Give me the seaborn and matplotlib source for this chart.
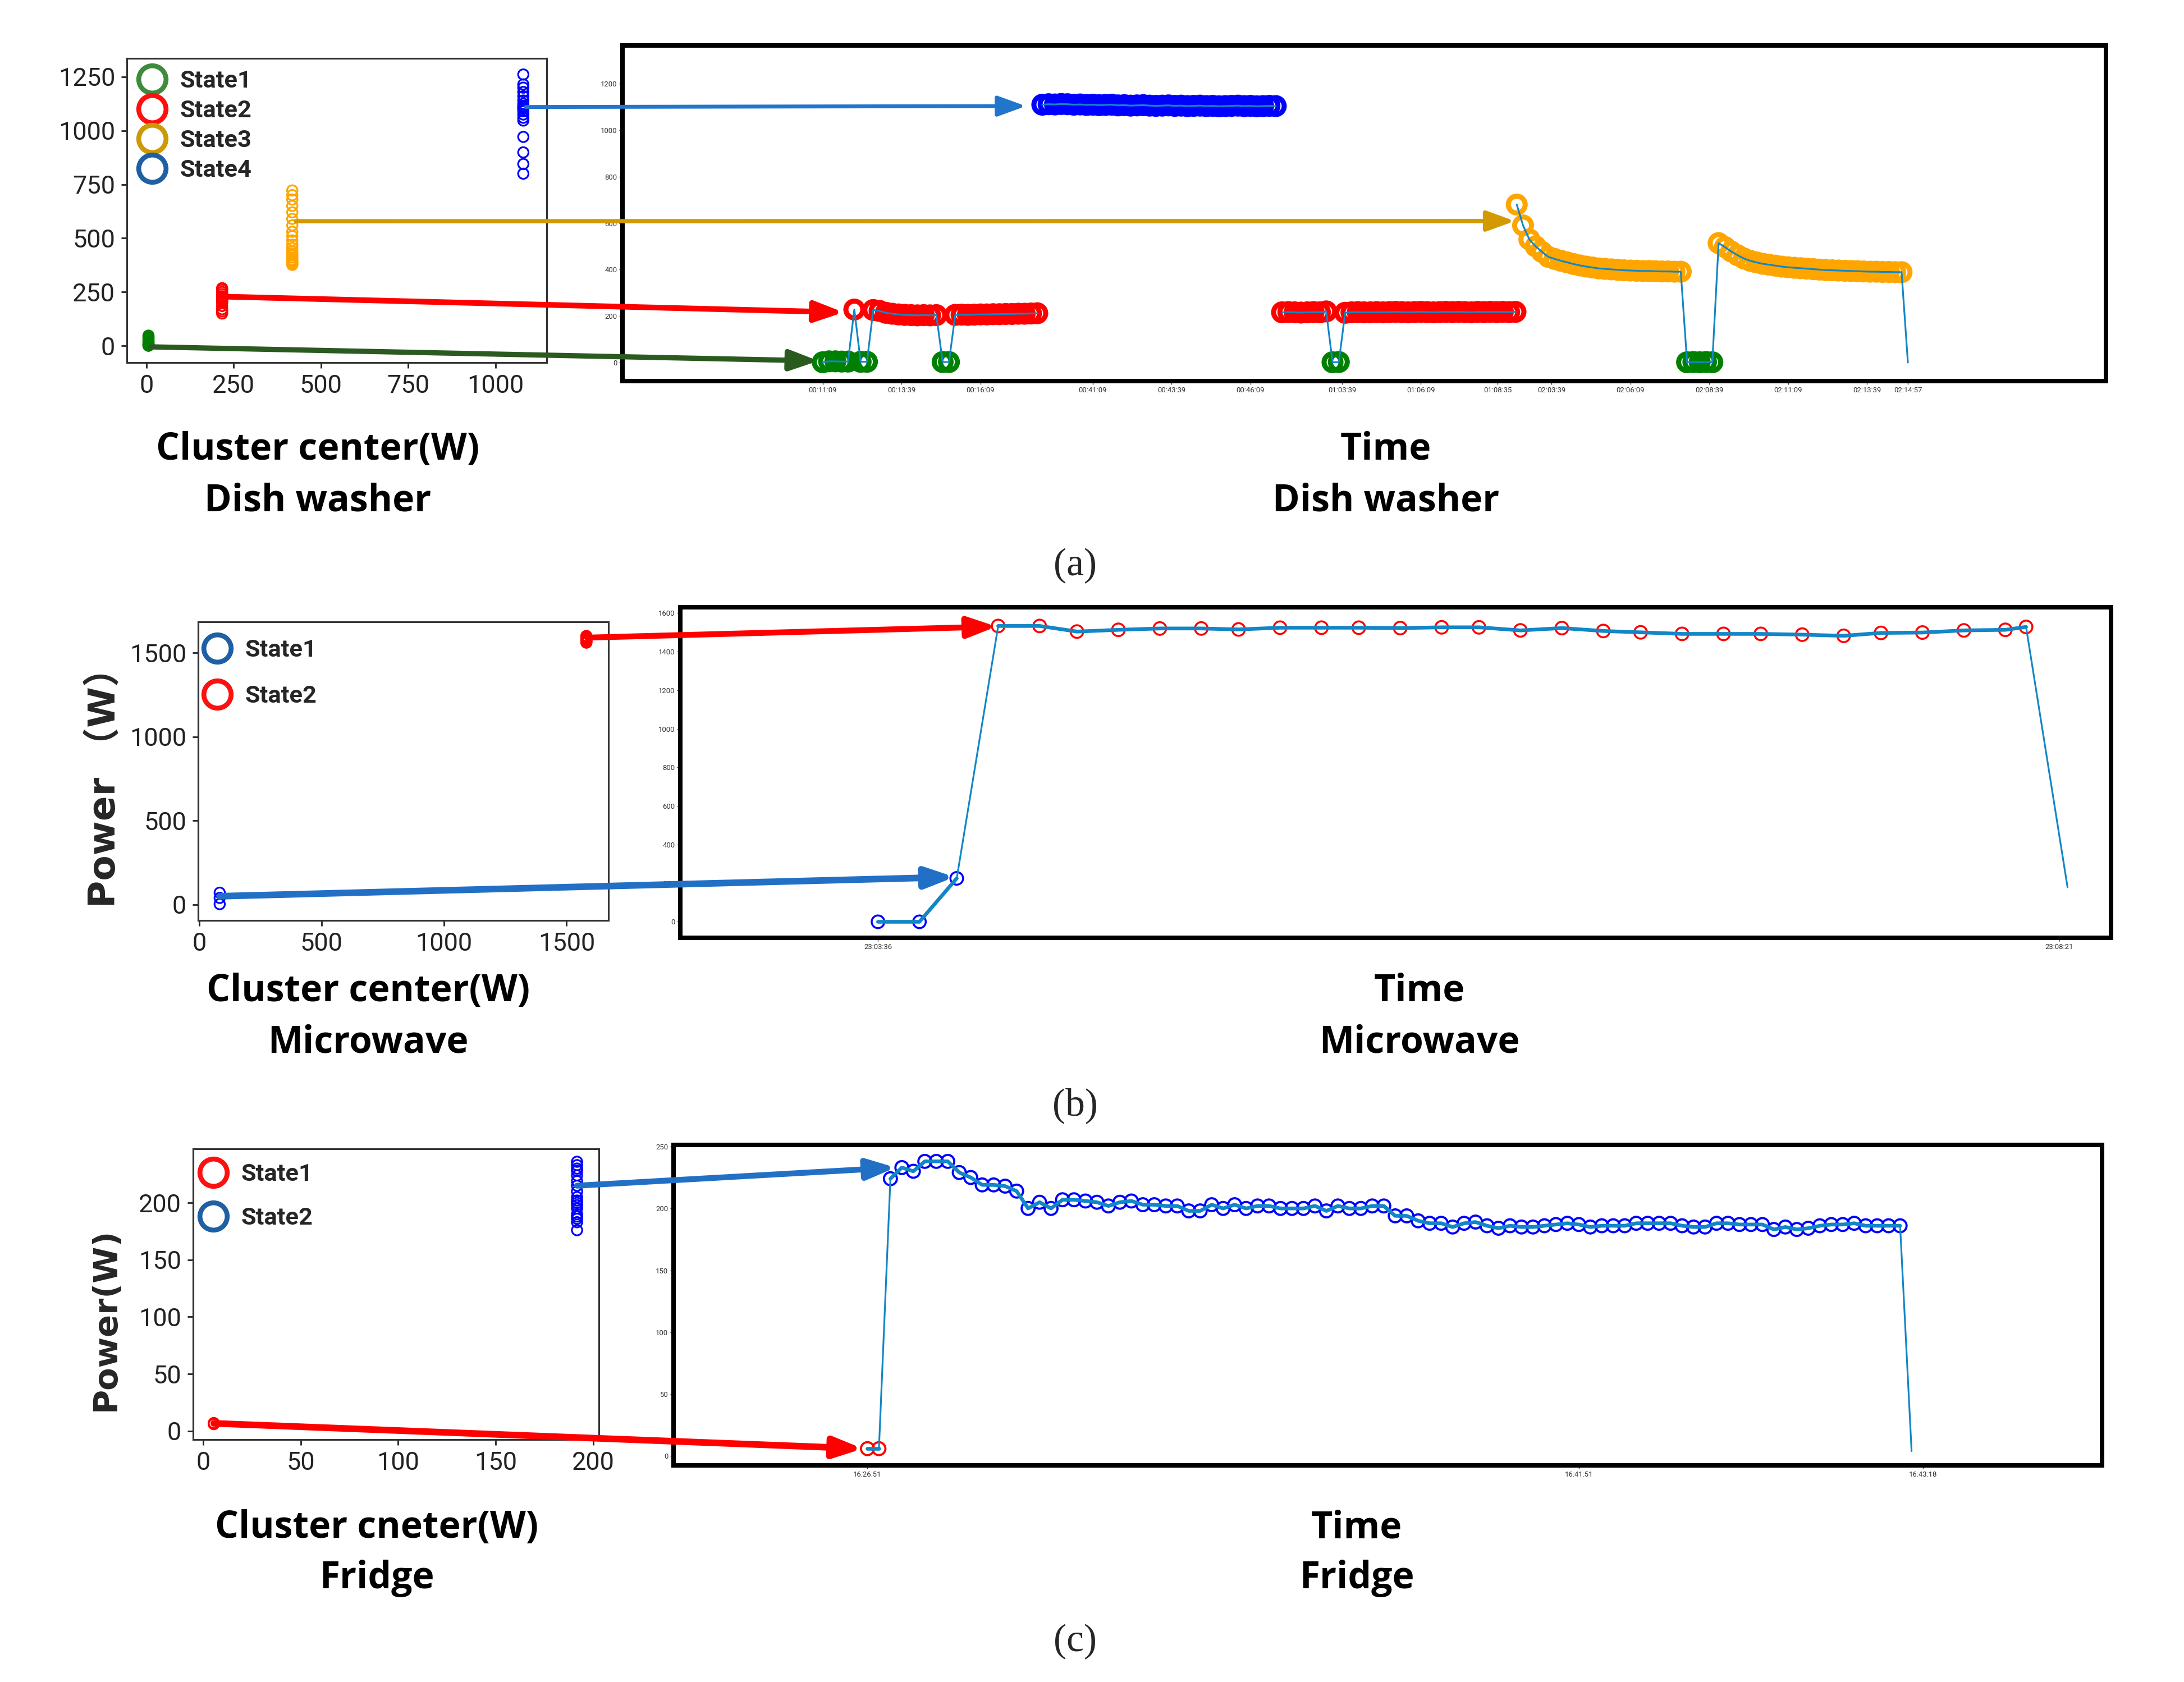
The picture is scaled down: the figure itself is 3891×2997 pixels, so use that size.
import numpy as np
import pandas as pd
import matplotlib.pyplot as plt
import seaborn as sns
from matplotlib.patches import ConnectionPatch
from matplotlib.lines import Line2D

W, H, DPI = 3891, 2997, 250

# ---------------- (a) dish washer ----------------
dw_labels = ["State1", "State2", "State3", "State4"]
dw_centers = [6, 217, 418, 1080]
dw_pts_s1 = [0, 2, 3, 5, 8, 12, 18, 25, 33, 40, 47]
dw_pts_s2 = [150, 160, 170, 185, 200, 205, 210, 215, 220, 225, 230, 240, 250, 260, 268]
dw_pts_s3 = [376, 380, 385, 390, 395, 400, 410, 420, 430, 440, 455, 470, 490, 510, 530,
             560, 590, 620, 650, 680, 700, 722]
dw_pts_s4 = [800, 845, 899, 971, 1047, 1060, 1075, 1090, 1100, 1105, 1110, 1115, 1125,
             1140, 1160, 1180, 1200, 1215, 1261]

dw_step = 0.2                                   # minutes between samples
dw_seg_start = [11.15, 39.55, 61.75, 122.55]    # minutes
dw_seg_shift = [0.0, 21.44, 36.04, 89.40]       # time cut out of the broken axis
dw_seg1_w = [1, 5, 5, 4, 4, 228, 3, 3, 226, 222, 214, 210, 207, 205, 204, 203, 204, 203, 204,
             2, 2, 205, 206, 205, 206, 207, 207, 208, 208, 209, 209, 210, 210, 211, 212]
dw_seg1_runs = [(1, 5), (2, 1), (1, 2), (2, 11), (1, 2), (2, 14)]
dw_seg2_w = [1110, 1112, 1111, 1113, 1112, 1110, 1111, 1109, 1110, 1108,
             1109, 1110, 1107, 1108, 1106, 1107, 1108, 1106, 1105, 1106,
             1107, 1105, 1106, 1104, 1105, 1106, 1104, 1105, 1103, 1104,
             1105, 1106, 1104, 1105, 1103, 1104, 1105, 1104]
dw_seg2_runs = [(4, 38)]
dw_seg3_w = [216, 217, 216, 215, 216, 217, 216, 220, 1, 2,
             214, 216, 217, 216, 216, 217, 216, 217, 218, 217,
             216, 217, 218, 217, 216, 217, 218, 217, 218, 217,
             216, 218, 217, 218, 217, 218, 217, 218]
dw_seg3_runs = [(2, 8), (1, 2), (2, 28)]
dw_seg4_w = [680, 590, 530, 500, 476, 455, 446, 438, 431, 424, 418, 413, 409, 405, 403,
             401, 399, 397, 396, 395, 394, 394, 393, 392, 392, 391, 391,
             1, 2, 1, 2, 1,
             514, 497, 478, 462, 448, 438, 431, 425, 421, 417, 413, 410, 408, 406, 404,
             402, 400, 398, 397, 396, 395, 394, 393, 392, 391, 391, 390, 390, 389, 389,
             0]
dw_seg4_runs = [(3, 27), (1, 5), (3, 30), (0, 1)]
dw_ticks = ["00:11:09", "00:13:39", "00:16:09", "00:41:09", "00:43:39", "00:46:09",
            "01:03:39", "01:06:09", "01:08:35", "02:03:39", "02:06:09", "02:08:39",
            "02:11:09", "02:13:39", "02:14:57"]

# ---------------- (b) microwave ----------------
mw_labels = ["State1", "State2"]
mw_centers = [84, 1581]
mw_pts_s1 = [3, 40, 71]
mw_pts_s2 = [1560, 1565, 1570, 1575, 1580, 1585, 1590, 1595, 1600]
mw_t = [0, 10, 19, 29, 39, 48, 58, 68, 78, 87, 97, 107, 116, 126, 136, 145, 155, 165,
        175, 184, 194, 204, 213, 223, 233, 242, 252, 262, 272, 277, 287]
mw_w = [0, 0, 225, 1533, 1533, 1504, 1513, 1520, 1520, 1515, 1524, 1524, 1524, 1522, 1526,
        1526, 1510, 1522, 1507, 1500, 1492, 1492, 1492, 1488, 1482, 1497, 1499, 1510, 1513,
        1528, 180]
mw_runs = [(1, 3), (2, 27), (0, 1)]
mw_ticks = ["23:03:36", "23:08:21"]

# ---------------- (c) fridge ----------------
fr_labels = ["State1", "State2"]
fr_centers = [5.5, 191.6]
fr_pts_s1 = [6, 7]
fr_pts_s2 = [176, 183, 186, 188, 190, 195, 198, 200, 202, 205, 210, 215, 219, 224, 228,
             230, 233, 236]
fr_w = [6, 6, 224, 233, 230, 238, 238, 238, 229, 225, 219, 219, 218, 214, 200, 205, 200,
        207, 207, 206, 205, 202, 205, 206, 203, 203, 202, 202, 198, 198, 203, 200, 203,
        200, 202, 202, 200, 200, 200, 202, 198, 202, 200, 200, 202, 202, 194, 194, 190,
        188, 188, 185, 188, 189, 186, 184, 186, 185, 185, 186, 187, 188, 187, 185, 186,
        186, 186, 188, 188, 188, 188, 186, 185, 185, 188, 188, 187, 187, 187, 183, 185,
        183, 184, 186, 187, 187, 188, 186, 186, 186, 186, 4]
fr_runs = [(1, 2), (2, 89), (0, 1)]
fr_tick_idx = [0, 62, 92]
fr_ticks = ["16:26:51", "16:41:51", "16:43:18"]

LINE = "#1286c6"
GREEN, RED, ORANGE, BLUE = "#008000", "#ff0000", "#ffa500", "#0000ff"


def expand_runs(runs):
    out = []
    for s, n in runs:
        out += [s] * n
    return out


def to_sec(s):
    h, m, x = map(int, s.split(":"))
    return h * 3600 + m * 60 + x


def cluster_frame(centers, groups):
    rows = []
    for k, (c, pts) in enumerate(zip(centers, groups), start=1):
        rows += [(c, p, "S%d" % k) for p in pts]
    return pd.DataFrame(rows, columns=["center", "power", "lab"])


def series_frame(x, w, runs, seg=None):
    df = pd.DataFrame({"x": x, "w": w, "state": expand_runs(runs)})
    df["seg"] = 0 if seg is None else seg
    df["lab"] = ["S%d" % s for s in df.state]
    df["run"] = ((df.state != df.state.shift()) | (df.seg != df.seg.shift())).cumsum()
    return df


def rings(ax, df, x, y, pal, s, lw, z=3):
    sns.scatterplot(data=df, x=x, y=y, hue="lab", palette=pal, s=s, ax=ax,
                    legend=False, zorder=z, linewidth=0)
    pc = ax.collections[-1]
    pc.set_edgecolors(pc.get_facecolors())
    pc.set_facecolors("none")
    pc.set_linewidths(lw)


def draw_series(ax, df, pal, s, lw_ring, lw_line, lw_run=None):
    marked = df[df.state > 0]
    rings(ax, marked, "x", "w", pal, s, lw_ring)
    sns.lineplot(data=df, x="x", y="w", units="seg", estimator=None, sort=False,
                 color=LINE, lw=lw_line, ax=ax, zorder=4)
    if lw_run:
        sns.lineplot(data=marked, x="x", y="w", units="run", estimator=None, sort=False,
                     color=LINE, lw=lw_run, ax=ax, zorder=4)


def rect(x0, y0, x1, y1):
    return [x0 / W, 1 - y1 / H, (x1 - x0) / W, (y1 - y0) / H]


def style_left(ax, xlim, ylim, xt, yt):
    ax.set_xlim(xlim)
    ax.set_ylim(ylim)
    ax.set_xticks(xt)
    ax.set_yticks(yt)
    ax.set_xlabel("")
    ax.set_ylabel("")
    ax.tick_params(labelsize=13, length=3, width=0.8, colors="#222222", pad=3)
    for sp in ax.spines.values():
        sp.set_visible(True)
        sp.set_linewidth(0.9)
        sp.set_color("#333333")


def style_right(ax, xlim, ylim, xt, xl, yt):
    ax.set_xlim(xlim)
    ax.set_ylim(ylim)
    ax.set_xticks(xt)
    ax.set_xticklabels(xl)
    ax.set_yticks(yt)
    ax.set_xlabel("")
    ax.set_ylabel("")
    ax.tick_params(labelsize=3.8, length=1.6, width=0.4, colors="#333333", pad=1.2)
    for sp in ax.spines.values():
        sp.set_visible(True)
        sp.set_linewidth(2.3)
        sp.set_color("black")


def legend(ax, labels, colors, x_px, y_px, spacing):
    hs = [Line2D([], [], ls="", marker="o", mfc="none", mec=c, ms=14, mew=2.5) for c in colors]
    ax.legend(hs, labels, loc="upper left", bbox_to_anchor=(x_px / W, 1 - y_px / H),
              bbox_transform=fig.transFigure, frameon=False, borderpad=0, borderaxespad=0,
              handlelength=1.2, handletextpad=0.55, labelspacing=spacing,
              prop=dict(family="Roboto", weight="bold", size=12.5))


def arrow(axA, axB, xyA, xyB, color, lw):
    con = ConnectionPatch(xyA=xyA, xyB=xyB, coordsA="data", coordsB="data",
                          axesA=axA, axesB=axB, color=color, lw=lw,
                          arrowstyle="-|>,head_length=0.55,head_width=0.2",
                          mutation_scale=22, zorder=6)
    fig.add_artist(con)


def label(x_px, y_px, text, **kw):
    fig.text(x_px / W, 1 - y_px / H, text, ha="center", va="center", **kw)


sns.set_style("ticks")
plt.rcParams["font.family"] = ["Roboto", "DejaVu Sans"]

fig = plt.figure(figsize=(W / DPI, H / DPI), dpi=DPI)
bold = dict(fontfamily="Open Sans", fontweight="bold", fontsize=19, color="black")

# ===== (a) =====
axL = fig.add_axes(rect(226, 104, 974, 646))
axR = fig.add_axes(rect(1109, 81, 3752, 679))
pal_a = {"S1": GREEN, "S2": RED, "S3": ORANGE, "S4": BLUE}
rings(axL, cluster_frame(dw_centers, [dw_pts_s1, dw_pts_s2, dw_pts_s3, dw_pts_s4]),
      "center", "power", pal_a, 28, 0.9)
style_left(axL, (-56, 1147), (-78, 1336), [0, 250, 500, 750, 1000],
           [0, 250, 500, 750, 1000, 1250])
legend(axL, dw_labels, ["#3d8b3d", "#ff1010", "#cc9a06", "#1f5fa3"], 245, 124, 0.28)

segs = [dw_seg1_w, dw_seg2_w, dw_seg3_w, dw_seg4_w]
seg_runs = [dw_seg1_runs, dw_seg2_runs, dw_seg3_runs, dw_seg4_runs]
parts = []
for i, (t0, sh, vals, runs) in enumerate(zip(dw_seg_start, dw_seg_shift, segs, seg_runs)):
    u = [t0 + k * dw_step - sh for k in range(len(vals))]
    parts.append(series_frame(u, vals, runs, seg=i))
dw = pd.concat(parts, ignore_index=True)
draw_series(axR, dw, pal_a, 75, 2.6, 0.9)

tick_u = []
for lab in dw_ticks:
    t = to_sec(lab) / 60
    i = max(j for j, s0 in enumerate(dw_seg_start) if t >= s0 - 0.01)
    tick_u.append(t - dw_seg_shift[i])
style_right(axR, (4.80, 51.83), (-80, 1365), tick_u, dw_ticks, range(0, 1201, 200))

arrow(axL, axR, (1087, 1110), (17.59, 1104), "#2176cc", 2.0)
arrow(axL, axR, (428, 579), (33.09, 609), "#d39a00", 2.2)
arrow(axL, axR, (235, 228), (11.81, 216), "#ff0000", 2.9)
arrow(axL, axR, (12, -5), (11.01, 7), "#2b5a1f", 2.7)

label(566, 801, "Cluster center(W)", **bold)
label(566, 893, "Dish washer", **bold)
label(2469, 801, "Time", **bold)
label(2469, 893, "Dish washer", **bold)
label(1915, 1008, "(a)", fontfamily="Liberation Serif", fontsize=20)

# ===== (b) =====
bxL = fig.add_axes(rect(353, 1108, 1084, 1640))
bxR = fig.add_axes(rect(1212, 1082, 3761, 1671))
pal_b = {"S1": BLUE, "S2": RED}
rings(bxL, cluster_frame(mw_centers, [mw_pts_s1, mw_pts_s2]), "center", "power", pal_b, 28, 0.9)
style_left(bxL, (-4, 1671), (-94, 1684), [0, 500, 1000, 1500], [0, 500, 1000, 1500])
legend(bxL, mw_labels, ["#1f5fa3", "#ff1010"], 361, 1138, 0.95)

mw = series_frame(mw_t, mw_w, mw_runs)
draw_series(bxR, mw, pal_b, 42, 1.0, 0.9, 1.9)
t0 = to_sec(mw_ticks[0])
style_right(bxR, (-47.7, 297.5), (-83, 1630), [to_sec(s) - t0 for s in mw_ticks], mw_ticks,
            range(0, 1601, 200))

arrow(bxL, bxR, (1584, 1590), (28.6, 1530), "#ff0000", 3.0)
arrow(bxL, bxR, (84, 50), (18.5, 232), "#2270c5", 3.4)

label(187, 1387, "Power （W）", rotation=90, fontfamily=["DejaVu Sans", "Noto Sans CJK SC"],
      fontweight="bold", fontsize=19)
label(656, 1766, "Cluster center(W)", **bold)
label(656, 1858, "Microwave", **bold)
label(2529, 1766, "Time", **bold)
label(2529, 1858, "Microwave", **bold)
label(1915, 1970, "(b)", fontfamily="Liberation Serif", fontsize=20)

# ===== (c) =====
cxL = fig.add_axes(rect(344, 2047, 1067, 2565))
cxR = fig.add_axes(rect(1200, 2040, 3745, 2611))
pal_c = {"S1": RED, "S2": BLUE}
rings(cxL, cluster_frame(fr_centers, [fr_pts_s1, fr_pts_s2]), "center", "power", pal_c, 28, 0.9)
style_left(cxL, (-5.1, 202.8), (-7.5, 247.3), [0, 50, 100, 150, 200], [0, 50, 100, 150, 200])
legend(cxL, fr_labels, ["#ff1010", "#1f5fa3"], 354, 2072, 0.85)

fr = series_frame(list(range(len(fr_w))), fr_w, fr_runs)
draw_series(cxR, fr, pal_c, 44, 1.1, 0.9, 1.9)
style_right(cxR, (-16.9, 107.6), (-7.5, 251.3), fr_tick_idx, fr_ticks, range(0, 251, 50))

arrow(cxL, cxR, (191.6, 215), (2.45, 233), "#2270c5", 3.0)
arrow(cxL, cxR, (5.5, 6.7), (-0.4, 6), "#ff0000", 3.4)

label(188, 2351, "Power(W)", rotation=90, fontfamily="DejaVu Sans", fontweight="bold",
      fontsize=17)
label(671, 2723, "Cluster cneter(W)", **bold)
label(671, 2813, "Fridge", **bold)
label(2417, 2723, "Time", **bold)
label(2417, 2813, "Fridge", **bold)
label(1915, 2925, "(c)", fontfamily="Liberation Serif", fontsize=20)

fig.savefig("out.png", dpi=DPI, facecolor="white")
